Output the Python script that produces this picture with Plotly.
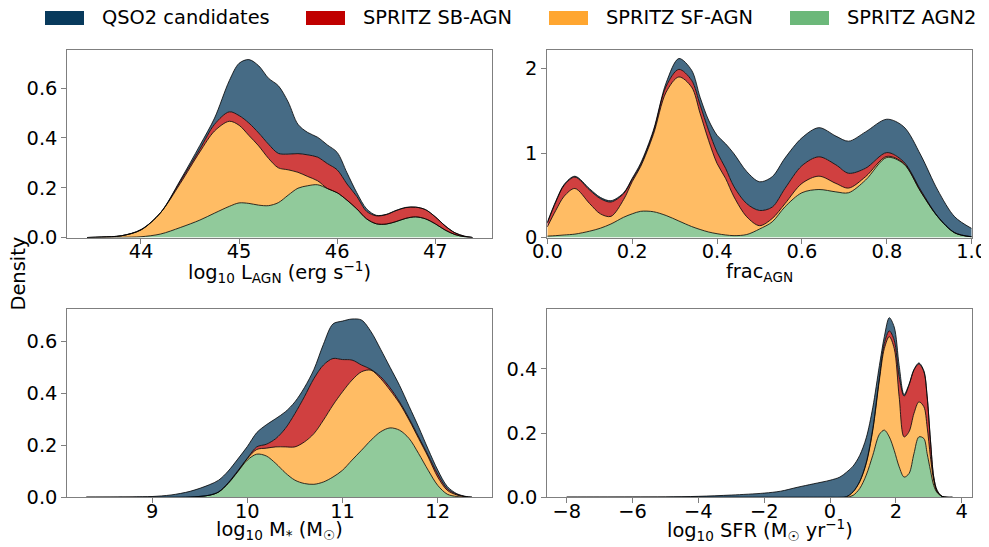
import plotly.graph_objects as go

# ---------------- data ----------------
series_names = ["SPRITZ AGN2", "SPRITZ SF-AGN", "SPRITZ SB-AGN", "QSO2 candidates"]  # bottom -> top
legend_order = ["QSO2 candidates", "SPRITZ SB-AGN", "SPRITZ SF-AGN", "SPRITZ AGN2"]
series_colors = {"QSO2 candidates": (8, 58, 92), "SPRITZ SB-AGN": (192, 0, 0),
                 "SPRITZ SF-AGN": (255, 166, 48), "SPRITZ AGN2": (108, 184, 122)}

# Panel 1: log10 L_AGN
lagn_x = [43.45, 43.6, 43.8, 44.0, 44.2, 44.4, 44.6, 44.75, 44.9, 45.0, 45.1, 45.2, 45.3, 45.4, 45.5,
          45.6, 45.7, 45.8, 45.9, 46.0, 46.1, 46.2, 46.3, 46.4, 46.5, 46.6, 46.7, 46.8, 46.9, 47.0,
          47.1, 47.2, 47.3, 47.38]
lagn_agn2 = [0, 0, 0.001, 0.003, 0.014, 0.04, 0.07, 0.098, 0.125, 0.139, 0.137, 0.13, 0.128, 0.14, 0.17,
             0.198, 0.208, 0.212, 0.197, 0.18, 0.15, 0.115, 0.075, 0.055, 0.054, 0.064, 0.077, 0.083, 0.075, 0.055,
             0.03, 0.012, 0.003, 0]
lagn_sf = [0, 0.002, 0.006, 0.027, 0.086, 0.177, 0.274, 0.33, 0.342, 0.312, 0.273, 0.238, 0.19, 0.14, 0.102,
           0.064, 0.037, 0.016, 0, 0, 0, 0, 0, 0, 0, 0, 0, 0, 0, 0,
           0, 0, 0, 0]
lagn_sb = [0, 0, 0, 0.001, 0, 0.008, 0.011, 0.027, 0.038, 0.039, 0.05, 0.052, 0.057, 0.058, 0.063,
           0.075, 0.087, 0.095, 0.1, 0.092, 0.065, 0.05, 0.03, 0.032, 0.038, 0.044, 0.043, 0.039, 0.037, 0.028,
           0.017, 0.007, 0.002, 0]
lagn_qso2 = [0, 0, 0, 0.001, 0, 0.005, 0.015, 0.025, 0.125, 0.21, 0.255, 0.27, 0.265, 0.272, 0.21,
             0.118, 0.09, 0.08, 0.075, 0.07, 0.045, 0.015, 0.01, 0.002, 0.001, 0.001, 0.001, 0, 0, 0,
             0, 0, 0, 0]

# Panel 2: frac_AGN
frac_x = [0, 0.02, 0.04, 0.065, 0.1, 0.125, 0.15, 0.18, 0.2, 0.22, 0.25, 0.28, 0.31, 0.34, 0.36, 0.38,
          0.4, 0.42, 0.44, 0.47, 0.5, 0.53, 0.56, 0.6, 0.64, 0.68, 0.71, 0.75, 0.8, 0.84, 0.88, 0.92,
          0.96, 1.0]
frac_agn2 = [0.016, 0.022, 0.03, 0.04, 0.075, 0.11, 0.16, 0.24, 0.28, 0.31, 0.305, 0.26, 0.195, 0.13, 0.095, 0.065,
             0.045, 0.03, 0.022, 0.035, 0.10, 0.185, 0.363, 0.53, 0.568, 0.54, 0.53, 0.68, 0.947, 0.87, 0.54, 0.245,
             0.055, 0.008]
frac_sf = [0.109, 0.298, 0.46, 0.54, 0.325, 0.17, 0.09, 0.21, 0.38, 0.53, 0.915, 1.46, 1.705, 1.65, 1.375, 1.085,
           0.831, 0.67, 0.458, 0.21, 0.04, 0.04, 0.037, 0.11, 0.158, 0.10, 0.055, 0.04, 0.013, 0.008, 0.003, 0,
           0, 0]
frac_sb = [0.045, 0.10, 0.13, 0.135, 0.16, 0.18, 0.17, 0.07, 0.025, 0.02, 0.03, 0.07, 0.09, 0.08, 0.10, 0.12,
           0.134, 0.12, 0.12, 0.155, 0.18, 0.135, 0.18, 0.21, 0.229, 0.22, 0.175, 0.10, 0.045, 0.017, 0.017, 0.005,
           0.003, 0.001]
frac_qso2 = [0.01, 0.01, 0.01, 0.01, 0.015, 0.015, 0.015, 0.01, 0.015, 0.02, 0.02, 0.04, 0.128, 0.12, 0.09, 0.12,
             0.20, 0.29, 0.39, 0.38, 0.34, 0.36, 0.36, 0.33, 0.345, 0.34, 0.38, 0.43, 0.395, 0.415, 0.415, 0.31,
             0.187, 0.098]

# Panel 3: log10 M*
mstar_x = [8.31, 8.6, 8.9, 9.0, 9.2, 9.4, 9.6, 9.7, 9.8, 9.9, 10.0, 10.1, 10.2, 10.3, 10.4, 10.5, 10.6, 10.7,
           10.8, 10.9, 11.0, 11.1, 11.2, 11.3, 11.4, 11.5, 11.6, 11.7, 11.8, 11.9, 12.0, 12.1, 12.2, 12.3, 12.36]
mstar_agn2 = [0, 0, 0, 0, 0, 0.001, 0.008, 0.02, 0.053, 0.098, 0.143, 0.166, 0.159, 0.13, 0.094, 0.066, 0.053, 0.05,
              0.059, 0.078, 0.104, 0.143, 0.181, 0.22, 0.252, 0.267, 0.258, 0.226, 0.168, 0.104, 0.046, 0.012, 0.003, 0, 0]
mstar_sf = [0, 0, 0, 0, 0, 0, 0, 0.001, 0.002, 0.002, 0.006, 0.018, 0.03, 0.064, 0.10, 0.128, 0.16, 0.195,
            0.238, 0.277, 0.302, 0.308, 0.302, 0.269, 0.205, 0.145, 0.103, 0.071, 0.058, 0.051, 0.032, 0.015, 0.006, 0.002, 0]
mstar_sb = [0, 0, 0, 0, 0, 0, 0, 0, 0.001, 0.002, 0.001, 0.01, 0.015, 0.032, 0.071, 0.128, 0.174, 0.212,
            0.212, 0.179, 0.124, 0.077, 0.026, 0.003, 0.007, 0.009, 0.006, 0.006, 0.006, 0.007, 0.011, 0.006, 0.003, 0, 0]
mstar_qso2 = [0, 0.0005, 0.002, 0.003, 0.009, 0.022, 0.04, 0.045, 0.045, 0.045, 0.045, 0.055, 0.075, 0.077, 0.064,
              0.045, 0.035, 0.035, 0.08, 0.133, 0.148, 0.158, 0.173, 0.145, 0.106, 0.079, 0.063, 0.047, 0.038, 0.023,
              0.016, 0.009, 0.002, 0.001, 0]

# Panel 4: log10 SFR
sfr_x = [-8, -7, -6, -5, -4, -3, -2, -1.5, -1, -0.5, 0, 0.3, 0.5, 0.7, 0.9, 1.1, 1.3, 1.5, 1.65, 1.8, 1.95,
         2.1, 2.25, 2.4, 2.55, 2.7, 2.85, 2.95, 3.05, 3.15, 3.25, 3.4, 3.55, 3.72]
sfr_agn2 = [0, 0, 0, 0, 0, 0, 0, 0, 0, 0, 0, 0, 0, 0.006, 0.027, 0.069, 0.131, 0.196, 0.209, 0.188, 0.146,
            0.095, 0.063, 0.074, 0.136, 0.188, 0.183, 0.136, 0.084, 0.037, 0.015, 0.003, 0, 0]
sfr_sf = [0, 0, 0, 0, 0, 0, 0, 0, 0, 0, 0, 0, 0.002, 0.011, 0.021, 0.036, 0.078, 0.169, 0.254, 0.312, 0.317,
          0.218, 0.125, 0.13, 0.125, 0.109, 0.099, 0.083, 0.042, 0.016, 0.002, 0, 0, 0]
sfr_sb = [0, 0, 0, 0, 0, 0, 0, 0, 0, 0, 0, 0, 0, 0, 0.001, 0.003, 0.005, 0.008, 0.016, 0.018, 0.026,
          0.062, 0.127, 0.145, 0.135, 0.118, 0.109, 0.094, 0.052, 0.01, 0.005, 0, 0, 0]
sfr_qso2 = [0, 0.0002, 0.0005, 0.001, 0.003, 0.007, 0.013, 0.019, 0.031, 0.042, 0.053, 0.063, 0.076, 0.08, 0.081,
            0.077, 0.066, 0.037, 0.021, 0.041, 0.041, 0.035, 0.005, 0.003, 0.002, 0.003, 0.003, 0.003, 0.002, 0.001,
            0, 0, 0.0005, 0]

xtitles = ["log<sub>10</sub> L<sub>AGN</sub> (erg s<sup>−1</sup>)", "frac<sub>AGN</sub>",
           "log<sub>10</sub> M<sub>*</sub> (M<sub>☉</sub>)", "log<sub>10</sub> SFR (M<sub>☉</sub> yr<sup>−1</sup>)"]

panels = [
    (lagn_x, [lagn_agn2, lagn_sf, lagn_sb, lagn_qso2]),
    (frac_x, [frac_agn2, frac_sf, frac_sb, frac_qso2]),
    (mstar_x, [mstar_agn2, mstar_sf, mstar_sb, mstar_qso2]),
    (sfr_x, [sfr_agn2, sfr_sf, sfr_sb, sfr_qso2]),
]

# ---------------- layout geometry ----------------
# The page body has an 8px margin, so the figure is drawn at (8, 8) in the window.
OFF = 8
W, H = 989 - OFF, 547 - OFF


def px2x(px):
    return (px - OFF) / W


def py2y(py):
    return 1 - (py - OFF) / H


xdoms = [[px2x(67.3), px2x(491.7)], [px2x(547.3), px2x(971.7)]]
ydoms = [[py2y(237.5), py2y(49.5)], [py2y(497.3), py2y(309.0)]]
xranges = [[43.249, 47.575], [0, 1], [8.110, 12.567], [-8.589, 4.304]]
yranges = [[0, 0.7555], [0, 2.225], [0, 0.7245], [0, 0.586]]
xticks = [[44, 45, 46, 47], [0, 0.2, 0.4, 0.6, 0.8, 1.0], [9, 10, 11, 12], [-8, -6, -4, -2, 0, 2, 4]]
xfmt = ["d", ".1f", "d", "d"]
yticks = [[0, 0.2, 0.4, 0.6], [0, 1, 2], [0, 0.2, 0.4, 0.6], [0, 0.2, 0.4]]
yfmt = [".1f", "d", ".1f", ".1f"]
xtitle_py = [272, 272, 530, 530]

FONT = "DejaVu Sans"
FS = 19.4
SPINE = "#7f7f7f"

fig = go.Figure()


def rgba(c, a):
    return f"rgba({c[0]},{c[1]},{c[2]},{a})"


for i, (xs, ys) in enumerate(panels):
    ax = "" if i == 0 else str(i + 1)
    for name, yv in zip(series_names, ys):
        fig.add_trace(go.Scatter(
            x=xs, y=yv, name=name, mode="lines", stackgroup=f"g{i}",
            line=dict(color="black", width=0.8, shape="spline", smoothing=0.9),
            fillcolor=rgba(series_colors[name], 0.75),
            xaxis="x" + ax, yaxis="y" + ax, showlegend=False, hoverinfo="skip"))

layout = dict(width=W, height=H, autosize=False, margin=dict(l=0, r=0, t=0, b=0, autoexpand=False),
              template="none",
              paper_bgcolor="white", plot_bgcolor="white",
              font=dict(family=FONT, size=FS, color="black"), showlegend=False)

for i in range(4):
    r, c = divmod(i, 2)
    ax = "" if i == 0 else str(i + 1)
    layout["xaxis" + ax] = dict(
        domain=xdoms[c], anchor="y" + ax, range=xranges[i], tickvals=xticks[i], tickformat=xfmt[i],
        showline=True, mirror=True, linecolor=SPINE, linewidth=1, ticks="outside", ticklen=5,
        tickcolor=SPINE, tickwidth=1, showgrid=False, zeroline=False, automargin=False,
        ticklabelstandoff=-9,
        tickfont=dict(family=FONT, size=FS, color="black"))
    layout["yaxis" + ax] = dict(
        domain=ydoms[r], anchor="x" + ax, range=yranges[i], tickvals=yticks[i], tickformat=yfmt[i],
        showline=True, mirror=True, linecolor=SPINE, linewidth=1, ticks="outside", ticklen=5,
        tickcolor=SPINE, tickwidth=1, showgrid=False, zeroline=False, automargin=False,
        tickfont=dict(family=FONT, size=FS, color="black"))

fig.update_layout(**layout)

# x-axis titles
for i in range(4):
    c = i % 2
    xc = (xdoms[c][0] + xdoms[c][1]) / 2
    fig.add_annotation(text=xtitles[i], x=xc, y=py2y(xtitle_py[i]), xref="paper", yref="paper",
                       xanchor="center", yanchor="middle", showarrow=False,
                       font=dict(family=FONT, size=FS, color="black"))

# "Density" shared y label
fig.add_annotation(text="Density", x=px2x(18.5), y=py2y(274), xref="paper", yref="paper",
                   xanchor="center", yanchor="middle",
                   textangle=-90, showarrow=False, font=dict(family=FONT, size=FS, color="black"))

# manual legend (patches + labels)
patch_px = [45, 306, 549, 790]
text_px = [100, 361, 604, 845]
for name, px, tx in zip(legend_order, patch_px, text_px):
    fig.add_shape(type="rect", xref="paper", yref="paper",
                  x0=px2x(px), x1=px2x(px + 39), y0=py2y(25), y1=py2y(11),
                  fillcolor=rgba(series_colors[name], 1), line=dict(width=0))
    fig.add_annotation(text=name, x=px2x(tx), y=py2y(18), xref="paper", yref="paper",
                       xanchor="left", yanchor="middle", showarrow=False,
                       font=dict(family=FONT, size=FS, color="black"))

fig.write_html("out.html")
